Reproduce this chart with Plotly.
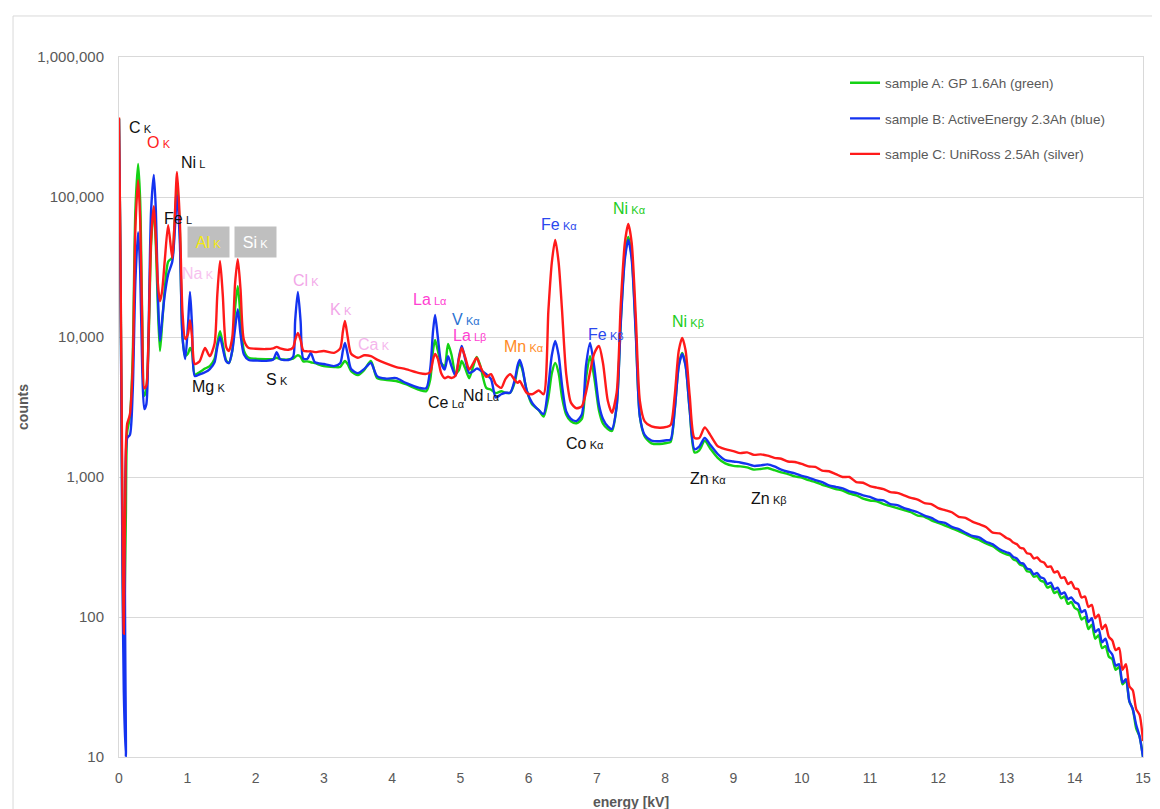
import plotly.graph_objects as go

# ---------------- data ----------------
energy_peaks = [
    0.00, 0.02, 0.05, 0.07, 0.10, 0.12, 0.16, 0.20, 0.24, 0.28,
    0.31, 0.34, 0.37, 0.40, 0.43, 0.47, 0.51, 0.54, 0.57, 0.60,
    0.63, 0.67, 0.72, 0.78, 0.81, 0.85, 0.89, 0.93, 0.97, 1.01,
    1.04, 1.07, 1.11, 1.18, 1.26, 1.33, 1.40, 1.44, 1.48, 1.52,
    1.57, 1.61, 1.66, 1.70, 1.74, 1.78, 1.83, 1.90, 2.00, 2.15,
    2.26, 2.31, 2.36, 2.48, 2.55, 2.58, 2.62, 2.66, 2.70, 2.76,
    2.81, 2.87, 3.00, 3.15, 3.24, 3.28, 3.31, 3.35, 3.40, 3.50,
    3.59, 3.69, 3.78, 3.90, 4.06, 4.20, 4.40, 4.50, 4.56, 4.60,
    4.63, 4.67, 4.72, 4.77, 4.82, 4.87, 4.93, 4.98, 5.02, 5.07,
    5.13, 5.19, 5.24, 5.29, 5.38, 5.45, 5.52, 5.60, 5.66, 5.73,
    5.80, 5.84, 5.87, 5.91, 5.97, 6.05, 6.15, 6.22, 6.29, 6.34,
    6.39, 6.44, 6.49, 6.55, 6.62, 6.70, 6.78, 6.84, 6.90, 6.96,
    7.03, 7.09, 7.16, 7.22, 7.29, 7.35, 7.41, 7.46, 7.51, 7.57,
    7.63, 7.70, 7.80, 7.92, 8.02, 8.08, 8.14, 8.20, 8.25, 8.30,
    8.36, 8.43, 8.50, 8.58, 8.66, 8.77, 8.88,
]
red_peaks = [
    370000, 45000, 700, 76, 1600, 2400, 2800, 6000, 60000, 132000,
    70000, 12000, 4300, 4500, 9000, 50000, 86000, 50000, 24000, 18000,
    21000, 35000, 63000, 36600, 60000, 151000, 70000, 15000, 9680, 10500,
    13200, 10000, 6410, 6700, 8340, 7300, 9000, 20000, 34900, 20000,
    8500, 7950, 10000, 24000, 36000, 22000, 9500, 8340, 8250, 8200,
    8300, 8500, 8300, 8100, 8400, 9500, 10700, 9500, 8000, 7900,
    7900, 7800, 7950, 7700, 8300, 11000, 13000, 10000, 7600, 7100,
    7400, 7300, 6900, 6500, 6100, 5900, 5520, 5450, 5600, 6900,
    7570, 7000, 5500, 5080, 5200, 5100, 5300, 7000, 8340, 7200,
    5860, 6500, 7100, 6200, 5200, 5420, 4600, 4330, 5000, 5420,
    4900, 4700, 4850, 4500, 4000, 3900, 4150, 3900, 15500, 34000,
    49300, 34000, 15500, 5500, 3400, 3100, 3200, 4000, 5600, 7600,
    8630, 6500, 3500, 2880, 4000, 17000, 47000, 64100, 47000, 14000,
    3500, 2500, 2300, 2250, 2280, 2350, 3800, 8000, 9840, 8000,
    3800, 1900, 1900, 2260, 2000, 1660, 1580,
]
green_peaks = [
    365000, 42000, 400, 60, 500, 2100, 2700, 7000, 80000, 172000,
    95000, 14000, 3800, 4200, 8000, 45000, 85000, 45000, 16000, 7950,
    12000, 22000, 34500, 37000, 60000, 124000, 60000, 10000, 7300, 7600,
    8340, 7800, 5400, 5600, 5950, 6200, 7000, 9000, 11000, 9000,
    6800, 6520, 8000, 16000, 23100, 14000, 8000, 7100, 7000, 6950,
    6950, 7100, 6950, 6900, 7000, 7200, 7400, 7200, 6700, 6700,
    6600, 6500, 6200, 6100, 6100, 6500, 6740, 6400, 5700, 5340,
    5800, 6740, 5080, 4950, 4850, 4600, 4190, 4100, 5000, 8000,
    9530, 8000, 6500, 6200, 8910, 7500, 5520, 5800, 6740, 6000,
    5080, 6200, 7200, 6300, 4330, 4200, 3970, 4100, 4000, 4000,
    4800, 6000, 6500, 5800, 4200, 3300, 3000, 2700, 3700, 5500,
    6520, 5500, 3700, 2800, 2500, 2420, 2600, 5000, 7300, 5200,
    3000, 2400, 2200, 2130, 3200, 13000, 38000, 51800, 38000, 11000,
    2700, 1950, 1740, 1720, 1750, 1780, 3000, 6300, 7690, 6300,
    3000, 1500, 1550, 1810, 1600, 1370, 1250,
]
blue_peaks = [
    360000, 40000, 250, 30, 10, 1900, 2000, 4000, 25000, 56000,
    30000, 6000, 3060, 3300, 9000, 80000, 144000, 80000, 20000, 9360,
    13000, 20000, 28000, 34500, 50000, 103000, 50000, 10000, 6960, 12000,
    21000, 12000, 5260, 5400, 5600, 5900, 6600, 8500, 10000, 8300,
    6700, 6520, 8000, 11500, 15800, 10500, 7500, 6850, 6800, 6750,
    6900, 7800, 6950, 6850, 7200, 13000, 21000, 13000, 7000, 7000,
    7690, 6600, 6410, 6200, 6500, 8000, 9060, 7500, 5900, 5520,
    5900, 6520, 5260, 5050, 5080, 4700, 4330, 4300, 6000, 11000,
    14400, 10000, 6500, 5860, 7300, 6200, 5260, 7200, 8630, 7000,
    5520, 5700, 5950, 5800, 5420, 5000, 3700, 3900, 4000, 4000,
    5000, 6300, 6850, 6000, 4200, 3400, 3000, 2820, 4500, 7400,
    9360, 7400, 4500, 2950, 2600, 2510, 2800, 6200, 9060, 6200,
    3300, 2600, 2300, 2200, 3200, 12500, 36000, 49300, 36000, 10500,
    2700, 2000, 1820, 1800, 1830, 1850, 3000, 6200, 7570, 6200,
    3000, 1580, 1650, 1900, 1700, 1460, 1320,
]

energy_tail = [
    9.0, 9.1, 9.2, 9.3, 9.4, 9.5, 9.6, 9.7, 9.8, 9.9,
    10.0, 10.1, 10.2, 10.3, 10.4, 10.5, 10.6, 10.7, 10.8, 10.9,
    11.0, 11.1, 11.2, 11.3, 11.4, 11.5, 11.6, 11.7, 11.8, 11.9,
    12.0, 12.1, 12.2, 12.3, 12.4, 12.5, 12.6, 12.7, 12.8, 12.9,
    13.0,
    13.05, 13.10, 13.15, 13.20, 13.25, 13.30, 13.35, 13.40, 13.45, 13.50,
    13.55, 13.60, 13.65, 13.70, 13.75, 13.80, 13.85, 13.90, 13.95, 14.00,
    14.05, 14.10, 14.15, 14.20, 14.25, 14.30, 14.35, 14.40, 14.45, 14.50,
    14.55, 14.60, 14.65, 14.70, 14.75, 14.80, 14.85, 14.90, 14.95, 15.00,
]
red_tail = [
    1530, 1480, 1500, 1440, 1450, 1420, 1370, 1350, 1290, 1280,
    1240, 1190, 1180, 1110, 1100, 1050, 1000, 1000, 920, 910,
    860, 840, 820, 780, 770, 740, 710, 690, 650, 640,
    600, 580, 560, 520, 510, 480, 460, 440, 400, 395,
    367,
    358, 340, 332, 312, 308, 285, 282, 262, 266, 250,
    245, 228, 230, 208, 212, 190, 192, 172, 178, 160,
    158, 138, 140, 118, 122, 98, 104, 82, 88, 72,
    68, 58, 60, 42, 46, 32, 30, 22, 20, 13,
]
blue_tail = [
    1290, 1270, 1240, 1200, 1210, 1230, 1190, 1130, 1090, 1060,
    1020, 990, 950, 920, 870, 850, 830, 790, 770, 740,
    720, 690, 680, 640, 630, 600, 580, 560, 530, 510,
    480, 470, 440, 425, 400, 380, 370, 345, 330, 305,
    290,
    284, 268, 262, 244, 240, 222, 218, 202, 206, 192,
    188, 172, 176, 158, 162, 146, 150, 134, 138, 128,
    124, 108, 112, 92, 98, 78, 82, 66, 70, 58,
    54, 45, 46, 34, 36, 25, 22, 17, 14, 10,
]
green_tail = [
    1200, 1190, 1170, 1130, 1140, 1160, 1120, 1080, 1050, 1010,
    990, 950, 920, 880, 850, 820, 800, 760, 740, 700,
    680, 670, 640, 620, 600, 580, 560, 530, 520, 490,
    470, 450, 430, 410, 390, 370, 355, 335, 320, 295,
    280,
    276, 258, 252, 236, 232, 212, 210, 194, 196, 182,
    178, 162, 166, 148, 152, 136, 140, 124, 128, 116,
    112, 96, 100, 82, 88, 70, 74, 60, 62, 52,
    50, 42, 44, 33, 35, 25, 22, 16, 14, 10,
]

series_names = [
    "sample A: GP 1.6Ah (green)",
    "sample B: ActiveEnergy 2.3Ah (blue)",
    "sample C: UniRoss 2.5Ah (silver)",
]
y_tick_values = [10, 100, 1000, 10000, 100000, 1000000]
y_tick_labels = ["10", "100", "1,000", "10,000", "100,000", "1,000,000"]
x_tick_values = list(range(0, 16))

energy = energy_peaks + energy_tail
green = green_peaks + green_tail
blue = blue_peaks + blue_tail
red = red_peaks + red_tail
assert len(energy) == len(green) == len(blue) == len(red)

# ---------------- figure ----------------
colors = ["#14d214", "#1433f0", "#ff1a1a"]
fig = go.Figure()
for i, (name, ys) in enumerate(zip(series_names, [green, blue, red])):
    fig.add_trace(go.Scatter(
        x=energy, y=ys, mode="lines", name=name,
        line=dict(color=colors[i], width=2.4, shape="spline", smoothing=0.7),
        legendgroup=f"g{i}",
    ))

FONT = "Liberation Sans, Arial, sans-serif"


def lbl(main, sub, color, kv, logc, size=16, subsize=11, **kw):
    return dict(
        x=kv, y=logc, xref="x", yref="y", showarrow=False,
        text=f"{main}\u2009<span style='font-size:{subsize}px'>{sub}</span>",
        font=dict(family=FONT, size=size, color=color), **kw)


PINK = "#f2a6e8"
MAG = "#ff3fd2"
BLK = "#111111"
annotations = [
    lbl("C", "K", BLK, 0.32, 5.50),
    lbl("O", "K", "#ff2020", 0.59, 5.386),
    lbl("Ni", "L", BLK, 1.08, 5.243),
    lbl("Fe", "L", BLK, 0.86, 4.85),
    lbl("Al", "K", "#f5ea10", 1.311, 4.679, bgcolor="#bfbfbf", width=37, height=26, borderpad=2),
    lbl("Si", "K", "#ffffff", 1.999, 4.679, bgcolor="#bfbfbf", width=37, height=26, borderpad=2),
    lbl("Na", "K", "#f7c2ef", 1.157, 4.457),
    lbl("Cl", "K", PINK, 2.74, 4.407),
    lbl("K", "K", PINK, 3.25, 4.20),
    lbl("Ca", "K", "#f5b5ec", 3.735, 3.943),
    lbl("Mg", "K", BLK, 1.318, 3.643),
    lbl("S", "K", BLK, 2.314, 3.70),
    lbl("La", "Lα", MAG, 4.555, 4.271),
    lbl("V", "Kα", "#2a72d2", 5.083, 4.125),
    lbl("La", "Lβ", MAG, 5.141, 4.010),
    lbl("Ce", "Lα", BLK, 4.80, 3.535),
    lbl("Nd", "Lα", BLK, 5.31, 3.585),
    lbl("Mn", "Kα", "#ff8a24", 5.932, 3.929),
    lbl("Fe", "Kα", "#2a48ee", 6.445, 4.807),
    lbl("Ni", "Kα", "#22cc22", 7.485, 4.921),
    lbl("Fe", "Kβ", "#2a48ee", 7.133, 4.021),
    lbl("Co", "Kα", BLK, 6.826, 3.236),
    lbl("Ni", "Kβ", "#22cc22", 8.335, 4.114),
    lbl("Zn", "Kα", BLK, 8.628, 2.986),
    lbl("Zn", "Kβ", BLK, 9.521, 2.843),
]

# the page body adds ~7px offset; margins compensate so the plot lands where the reference has it
fig.update_layout(
    width=1160, height=809, autosize=False,
    margin=dict(l=111, r=25, t=49, b=60),
    paper_bgcolor="white", plot_bgcolor="white",
    font=dict(family=FONT, color="#595959", size=13),
    showlegend=True,
    legend=dict(
        x=0.709, y=0.985, xanchor="left", yanchor="top",
        font=dict(family=FONT, size=13.5, color="#595959"),
        bgcolor="rgba(255,255,255,0)", tracegroupgap=15,
        itemwidth=30,
    ),
    annotations=annotations,
    shapes=[dict(
        type="rect", xref="paper", yref="paper",
        x0=-0.1035, x1=1.05, y0=-0.2, y1=1.0586,
        line=dict(color="#d9d9d9", width=1), layer="below",
    )],
)
fig.update_xaxes(
    range=[0, 15], tickmode="array", tickvals=x_tick_values,
    showgrid=False, zeroline=False, showline=True, linecolor="#d9d9d9",
    linewidth=1, mirror=True, ticks="", ticklabelstandoff=8,
    automargin=False,
    tickfont=dict(family=FONT, size=14, color="#595959"),
    title=dict(text="<b>energy [kV]</b>", standoff=12,
               font=dict(family=FONT, size=14, color="#595959")),
)
fig.update_yaxes(
    type="log", range=[1, 6], tickmode="array",
    tickvals=y_tick_values, ticktext=y_tick_labels,
    showgrid=True, gridcolor="#d9d9d9", gridwidth=1, zeroline=False,
    showline=True, linecolor="#d9d9d9", linewidth=1, mirror=True,
    ticks="", ticklabelstandoff=11, automargin=False,
    tickfont=dict(family=FONT, size=15, color="#595959"),
    title=dict(text="<b>counts</b>", standoff=5,
               font=dict(family=FONT, size=14, color="#595959")),
)

fig.write_html("out.html")
